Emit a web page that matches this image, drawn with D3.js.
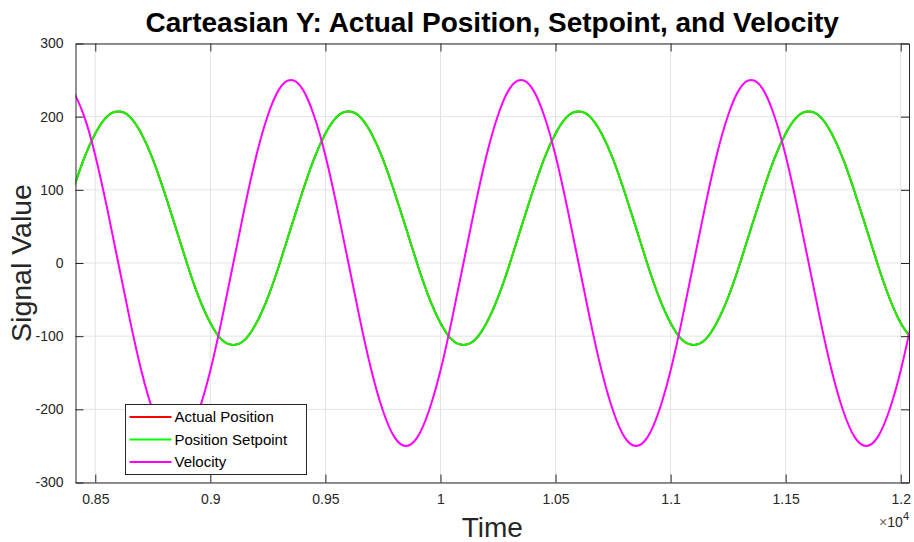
<!DOCTYPE html>
<html>
<head>
<meta charset="utf-8">
<script src="https://cdn.jsdelivr.net/npm/d3@7"></script>
<style>
  html, body { margin: 0; padding: 0; background: #fff; }
  svg { display: block; font-family: "Liberation Sans", Arial, Helvetica, sans-serif; }
</style>
</head>
<body>
<svg id="chart" width="914" height="542"></svg>
<script>
// Sample times (raw units, axis shows them scaled by 1e4)
const time = [
  8400, 8450, 8500, 8550, 8600, 8650, 8700, 8750, 8800, 8850,
  8900, 8950, 9000, 9050, 9100, 9150, 9200, 9250, 9300, 9350,
  9400, 9450, 9500, 9550, 9600, 9650, 9700, 9750, 9800, 9850,
  9900, 9950, 10000, 10050, 10100, 10150, 10200, 10250, 10300, 10350,
  10400, 10450, 10500, 10550, 10600, 10650, 10700, 10750, 10800, 10850,
  10900, 10950, 11000, 11050, 11100, 11150, 11200, 11250, 11300, 11350,
  11400, 11450, 11500, 11550, 11600, 11650, 11700, 11750, 11800, 11850,
  11900, 11950, 12000, 12050
];

const actualPosition = [
  97, 142, 177, 200, 207, 200, 177, 142, 97, 48,
  -2, -47, -82, -105, -112, -105, -82, -47, -2, 48,
  97, 142, 177, 200, 207, 200, 177, 142, 97, 48,
  -2, -47, -82, -105, -112, -105, -82, -47, -2, 48,
  97, 142, 177, 200, 207, 200, 177, 142, 97, 48,
  -2, -47, -82, -105, -112, -105, -82, -47, -2, 48,
  97, 142, 177, 200, 207, 200, 177, 142, 97, 48,
  -2, -47, -82, -105
];

const positionSetpoint = [
  97, 142, 177, 200, 207, 200, 177, 142, 97, 48,
  -2, -47, -82, -105, -112, -105, -82, -47, -2, 48,
  97, 142, 177, 200, 207, 200, 177, 142, 97, 48,
  -2, -47, -82, -105, -112, -105, -82, -47, -2, 48,
  97, 142, 177, 200, 207, 200, 177, 142, 97, 48,
  -2, -47, -82, -105, -112, -105, -82, -47, -2, 48,
  97, 142, 177, 200, 207, 200, 177, 142, 97, 48,
  -2, -47, -82, -105
];

const velocity = [
  238, 202, 147, 77, 0, -77, -147, -202, -238, -250,
  -238, -202, -147, -77, 0, 77, 147, 202, 238, 250,
  238, 202, 147, 77, 0, -77, -147, -202, -238, -250,
  -238, -202, -147, -77, 0, 77, 147, 202, 238, 250,
  238, 202, 147, 77, 0, -77, -147, -202, -238, -250,
  -238, -202, -147, -77, 0, 77, 147, 202, 238, 250,
  238, 202, 147, 77, 0, -77, -147, -202, -238, -250,
  -238, -202, -147, -77
];

const xTicks = [8500, 9000, 9500, 10000, 10500, 11000, 11500, 12000];
const xTickLabels = ["0.85", "0.9", "0.95", "1", "1.05", "1.1", "1.15", "1.2"];
const yTicks = [-300, -200, -100, 0, 100, 200, 300];

const seriesNames = ["Actual Position", "Position Setpoint", "Velocity"];
const seriesColors = ["#ff0000", "#00ff00", "#ff00ff"];
const seriesValues = [actualPosition, positionSetpoint, velocity];

const svg = d3.select("#chart");
const margin = { left: 75.5, right: 5, top: 43.5, bottom: 59.5 };
const W = 914, H = 542;
const x0 = margin.left, x1 = W - margin.right;
const y0 = margin.top, y1 = H - margin.bottom;

const x = d3.scaleLinear().domain([8414, 12036]).range([x0, x1]);
const y = d3.scaleLinear().domain([-300, 300]).range([y1, y0]);

const axisColor = "#262626";

// Grid
const grid = svg.append("g");
grid.selectAll("line.gx").data(xTicks).join("line")
  .attr("x1", d => x(d)).attr("x2", d => x(d))
  .attr("y1", y0).attr("y2", y1)
  .attr("stroke", "#e3e3e3").attr("stroke-width", 1);
grid.selectAll("line.gy").data(yTicks).join("line")
  .attr("x1", x0).attr("x2", x1)
  .attr("y1", d => y(d)).attr("y2", d => y(d))
  .attr("stroke", "#e3e3e3").attr("stroke-width", 1);

// Clip for data lines
svg.append("clipPath").attr("id", "plotclip")
  .append("rect").attr("x", x0).attr("y", y0).attr("width", x1 - x0).attr("height", y1 - y0);

const line = d3.line().curve(d3.curveNatural)
  .x((d, i) => x(time[i])).y(d => y(d));

const plot = svg.append("g").attr("clip-path", "url(#plotclip)");
seriesValues.forEach((vals, k) => {
  plot.append("path").datum(vals)
    .attr("d", line)
    .attr("fill", "none")
    .attr("stroke", seriesColors[k])
    .attr("stroke-width", 2);
});

// Axes (inward ticks, mirrored on top and right)
const tickLen = 8;
const xAxisB = d3.axisBottom(x).tickValues(xTicks).tickFormat((d, i) => xTickLabels[i])
  .tickSizeInner(-tickLen).tickSizeOuter(0).tickPadding(12);
const xAxisT = d3.axisTop(x).tickValues(xTicks).tickFormat("")
  .tickSizeInner(-tickLen).tickSizeOuter(0);
const yAxisL = d3.axisLeft(y).tickValues(yTicks).tickFormat(d => String(d))
  .tickSizeInner(-tickLen).tickSizeOuter(0).tickPadding(12);
const yAxisR = d3.axisRight(y).tickValues(yTicks).tickFormat("")
  .tickSizeInner(-tickLen).tickSizeOuter(0);

function styleAxis(g) {
  g.select(".domain").attr("stroke", axisColor).attr("stroke-width", 1);
  g.selectAll(".tick line").attr("stroke", axisColor).attr("stroke-width", 1);
  g.selectAll(".tick text").attr("fill", axisColor)
    .style("font-size", "14px")
    .style("font-family", "'Liberation Sans', Arial, Helvetica, sans-serif");
}
svg.append("g").attr("transform", `translate(0,${y1})`).call(xAxisB).call(styleAxis);
svg.append("g").attr("transform", `translate(0,${y0})`).call(xAxisT).call(styleAxis);
svg.append("g").attr("transform", `translate(${x0},0)`).call(yAxisL).call(styleAxis);
svg.append("g").attr("transform", `translate(${x1},0)`).call(yAxisR).call(styleAxis);

// Exponent label
const expo = svg.append("text").attr("x", x1).attr("y", 527)
  .attr("text-anchor", "end").attr("fill", axisColor).style("font-size", "14px");
expo.append("tspan").style("fill", "#666").text("\u00d7");
expo.append("tspan").text("10");
expo.append("tspan").attr("dy", -7).style("font-size", "11px").text("4");

// Title
svg.append("text").attr("x", (x0 + x1) / 2).attr("y", 32)
  .attr("text-anchor", "middle").attr("fill", "#000")
  .style("font-size", "28px").style("font-weight", "bold")
  .text("Carteasian Y: Actual Position, Setpoint, and Velocity");

// Axis titles
svg.append("text").attr("x", (x0 + x1) / 2).attr("y", 537)
  .attr("text-anchor", "middle").attr("fill", axisColor)
  .style("font-size", "28px").text("Time");
svg.append("text")
  .attr("transform", `translate(31,${(y0 + y1) / 2}) rotate(-90)`)
  .attr("text-anchor", "middle").attr("fill", axisColor)
  .style("font-size", "28.5px").text("Signal Value");

// Legend
const lg = svg.append("g").attr("transform", "translate(125.5,404.5)");
lg.append("rect").attr("width", 181).attr("height", 70)
  .attr("fill", "#fff").attr("stroke", axisColor).attr("stroke-width", 1);
seriesNames.forEach((name, k) => {
  const cy = 12.5 + k * 22.5;
  lg.append("line").attr("x1", 4).attr("x2", 46).attr("y1", cy).attr("y2", cy)
    .attr("stroke", seriesColors[k]).attr("stroke-width", 2);
  lg.append("text").attr("x", 49).attr("y", cy + 5)
    .attr("fill", "#000").style("font-size", "15px").text(name);
});
</script>
</body>
</html>
